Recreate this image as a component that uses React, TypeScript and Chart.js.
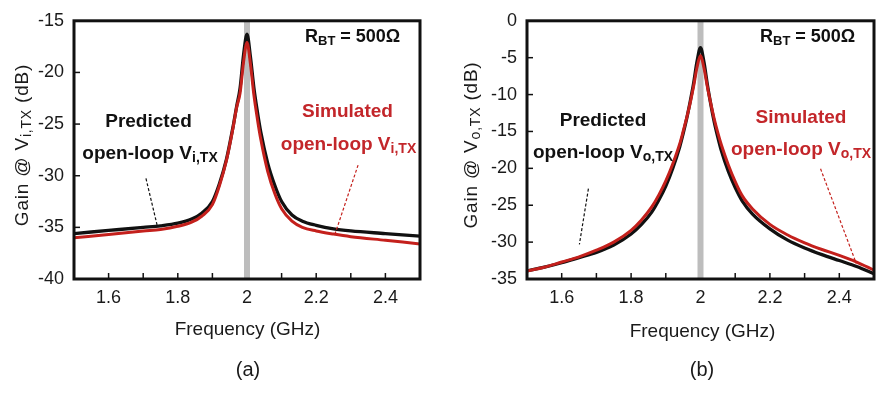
import React, { useEffect, useRef } from "react";
import { Chart, registerables } from "chart.js";

Chart.register(...registerables);

// ---------- data (a) ----------
const freqA = [1.5, 1.6, 1.7, 1.75, 1.8, 1.84, 1.87, 1.9, 1.92, 1.94, 1.96, 1.97, 1.98, 1.99, 2.0, 2.01, 2.02, 2.03, 2.04, 2.06, 2.08, 2.1, 2.13, 2.16, 2.2, 2.25, 2.3, 2.4, 2.5];
const predictedA = [-35.6, -35.3, -35.0, -34.85, -34.6, -34.2, -33.6, -32.5, -30.8, -28.5, -25.2, -23.3, -21.5, -18.3, -16.3, -18.5, -21.5, -23.8, -25.8, -28.8, -30.9, -32.5, -33.8, -34.4, -34.8, -35.15, -35.35, -35.6, -35.85];
const simulatedA = [-36.0, -35.7, -35.35, -35.2, -34.9, -34.5, -33.9, -32.8, -31.0, -28.6, -25.3, -23.4, -22.0, -19.0, -17.1, -19.2, -22.2, -24.5, -26.5, -29.6, -31.7, -33.2, -34.4, -35.0, -35.35, -35.65, -35.9, -36.25, -36.6];

// ---------- data (b) ----------
const freqB = [1.5, 1.55, 1.6, 1.65, 1.7, 1.75, 1.8, 1.83, 1.86, 1.88, 1.9, 1.92, 1.94, 1.95, 1.96, 1.97, 1.98, 1.99, 2.0, 2.01, 2.02, 2.03, 2.04, 2.05, 2.06, 2.08, 2.1, 2.12, 2.15, 2.2, 2.25, 2.3, 2.35, 2.4, 2.45, 2.5];
const predictedB = [-33.9, -33.4, -32.8, -32.1, -31.4, -30.4, -28.9, -27.6, -25.9, -24.3, -22.4, -20.0, -17.1, -15.3, -13.3, -11.0, -8.5, -5.5, -3.65, -5.6, -8.7, -11.4, -13.8, -15.8, -17.6, -20.4, -22.6, -24.4, -26.2, -28.2, -29.7, -30.8, -31.7, -32.5, -33.3, -34.3];
const simulatedB = [-33.9, -33.4, -32.7, -32.0, -31.1, -30.0, -28.4, -27.0, -25.2, -23.6, -21.7, -19.4, -16.7, -15.0, -13.2, -11.2, -8.9, -6.3, -4.7, -6.4, -9.0, -11.3, -13.4, -15.2, -16.8, -19.5, -21.8, -23.7, -25.5, -27.6, -29.0, -30.1, -31.0, -31.8, -32.7, -33.8];

// ---------- axes ----------
const xRange = [1.5, 2.5];
const xLabelled = ["1.6", "1.8", "2", "2.2", "2.4"];
const yRangeA = [-40, -15];
const yRangeB = [-35, 0];
const yStep = 5;
const centerFreq = 2.0;

// leader lines (data coords)
const leaderPredA = [[1.708, -30.26], [1.74, -34.76]];
const leaderSimA = [[2.321, -28.97], [2.254, -35.68]];
const leaderPredB = [[1.677, -22.76], [1.651, -30.3]];
const leaderSimB = [[2.346, -20.06], [2.449, -32.9]];

const FONT = "'Liberation Sans', Arial, Helvetica, sans-serif";
const BLACK = "#111111";
const RED = "#c4201c";
const RED_TEXT = "#c3262a";
const GRAY = "#bdbdbd";

type Part = { t: string; sub?: boolean };

function drawRich(
  ctx: CanvasRenderingContext2D,
  parts: Part[],
  x: number,
  y: number,
  align: "left" | "center",
  size: number,
  subSize: number,
  bold: boolean,
  color: string,
  subOffset: number
) {
  const main = `${bold ? "bold " : ""}${size}px ${FONT}`;
  const sub = `${bold ? "bold " : ""}${subSize}px ${FONT}`;
  let w = 0;
  parts.forEach((p) => {
    ctx.font = p.sub ? sub : main;
    w += ctx.measureText(p.t).width;
  });
  let cx = align === "center" ? x - w / 2 : x;
  ctx.fillStyle = color;
  ctx.textAlign = "left";
  ctx.textBaseline = "alphabetic";
  parts.forEach((p) => {
    ctx.font = p.sub ? sub : main;
    ctx.fillText(p.t, cx, y + (p.sub ? subOffset : 0));
    cx += ctx.measureText(p.t).width;
  });
}

type Ann = {
  rbt: [number, number];
  pred: { cx: number; y1: number; cx2: number; y2: number };
  sim: { cx: number; y1: number; cx2: number; y2: number };
  sub: string;
  leaderPred: number[][];
  leaderSim: number[][];
  yTitle: [number, number];
  xTitle: [number, number];
  panel: string;
  panelPos: [number, number];
};

function makePlugin(ann: Ann) {
  return {
    id: "decor",
    afterDraw(chart: any) {
      const { ctx, chartArea: a, scales } = chart;
      const xs = scales.x;
      const ys = scales.y;
      ctx.save();
      // inward ticks
      ctx.strokeStyle = BLACK;
      ctx.lineWidth = 1.5;
      xs.ticks.forEach((t: any) => {
        if (Math.abs(t.value - centerFreq) < 1e-6) return;
        const px = xs.getPixelForValue(t.value);
        ctx.beginPath();
        ctx.moveTo(px, a.bottom);
        ctx.lineTo(px, a.bottom - 6);
        ctx.stroke();
      });
      ys.ticks.forEach((t: any) => {
        const py = ys.getPixelForValue(t.value);
        ctx.beginPath();
        ctx.moveTo(a.left, py);
        ctx.lineTo(a.left + 6, py);
        ctx.stroke();
      });
      // leaders
      ctx.lineWidth = 1.2;
      ctx.setLineDash([3, 2]);
      const drawLeader = (pts: number[][], color: string) => {
        ctx.strokeStyle = color;
        ctx.beginPath();
        ctx.moveTo(xs.getPixelForValue(pts[0][0]), ys.getPixelForValue(pts[0][1]));
        ctx.lineTo(xs.getPixelForValue(pts[1][0]), ys.getPixelForValue(pts[1][1]));
        ctx.stroke();
      };
      drawLeader(ann.leaderPred, BLACK);
      drawLeader(ann.leaderSim, RED);
      ctx.setLineDash([]);
      // frame
      ctx.strokeStyle = BLACK;
      ctx.lineWidth = 3;
      ctx.strokeRect(a.left, a.top, a.right - a.left, a.bottom - a.top);

      // texts
      drawRich(ctx, [{ t: "R" }, { t: "BT", sub: true }, { t: " = 500Ω" }], ann.rbt[0], ann.rbt[1], "left", 18, 13, true, BLACK, 3);
      drawRich(ctx, [{ t: "Predicted" }], ann.pred.cx, ann.pred.y1, "center", 19, 14, true, BLACK, 3);
      drawRich(ctx, [{ t: "open-loop V" }, { t: ann.sub, sub: true }], ann.pred.cx2, ann.pred.y2, "center", 19, 14, true, BLACK, 3);
      drawRich(ctx, [{ t: "Simulated" }], ann.sim.cx, ann.sim.y1, "center", 19, 14, true, RED_TEXT, 3);
      drawRich(ctx, [{ t: "open-loop V" }, { t: ann.sub, sub: true }], ann.sim.cx2, ann.sim.y2, "center", 19, 14, true, RED_TEXT, 3);

      // x title
      drawRich(ctx, [{ t: "Frequency (GHz)" }], ann.xTitle[0], ann.xTitle[1], "center", 19, 13, false, "#1a1a1a", 0);
      // panel label
      ctx.font = `20px ${FONT}`;
      ctx.fillStyle = "#1a1a1a";
      ctx.textAlign = "center";
      ctx.textBaseline = "middle";
      ctx.fillText(ann.panel, ann.panelPos[0], ann.panelPos[1]);

      // y title rotated
      ctx.translate(ann.yTitle[0], ann.yTitle[1]);
      ctx.rotate(-Math.PI / 2);
      (ctx as any).letterSpacing = "0.8px";
      drawRich(ctx, [{ t: "Gain @ V" }, { t: ann.sub, sub: true }, { t: " (dB)" }], 0, 6, "center", 19, 14, false, "#1a1a1a", 3);
      (ctx as any).letterSpacing = "0px";
      ctx.restore();
    },
  };
}

function makeConfig(
  freq: number[],
  pred: number[],
  sim: number[],
  yRange: number[],
  yWidth: number,
  xHeight: number,
  padRight: number,
  ann: Ann
): any {
  const toPts = (vals: number[]) => freq.map((f, i) => ({ x: f, y: vals[i] }));
  return {
    type: "line",
    data: {
      datasets: [
        {
          label: "Simulated",
          data: toPts(sim),
          borderColor: RED,
          borderWidth: 3,
          pointRadius: 0,
          cubicInterpolationMode: "monotone",
          fill: false,
        },
        {
          label: "Predicted",
          data: toPts(pred),
          borderColor: BLACK,
          borderWidth: 3.3,
          pointRadius: 0,
          cubicInterpolationMode: "monotone",
          fill: false,
        },
        {
          label: "f0",
          data: [
            { x: centerFreq, y: yRange[0] },
            { x: centerFreq, y: yRange[1] },
          ],
          borderColor: GRAY,
          borderWidth: 6,
          pointRadius: 0,
          fill: false,
        },
      ],
    },
    options: {
      animation: false,
      responsive: false,
      devicePixelRatio: 1,
      layout: { padding: { top: 7, right: padRight, left: 0, bottom: 0 } },
      plugins: { legend: { display: false }, tooltip: { enabled: false } },
      scales: {
        x: {
          type: "linear",
          min: xRange[0],
          max: xRange[1],
          grid: { display: false, drawTicks: false },
          border: { display: false },
          afterFit: (s: any) => {
            s.height = xHeight;
          },
          ticks: {
            stepSize: 0.1,
            autoSkip: false,
            maxRotation: 0,
            padding: 8,
            color: "#1a1a1a",
            font: { family: FONT, size: 18 },
            callback: (v: number) => {
              const s = String(Math.round(v * 10) / 10);
              return xLabelled.includes(s) ? s : "";
            },
          },
        },
        y: {
          type: "linear",
          min: yRange[0],
          max: yRange[1],
          grid: { display: false, drawTicks: false },
          border: { display: false },
          afterFit: (s: any) => {
            s.width = yWidth;
          },
          ticks: {
            stepSize: yStep,
            padding: 10,
            color: "#1a1a1a",
            font: { family: FONT, size: 18 },
            callback: (v: number) => String(v),
          },
        },
      },
    },
    plugins: [makePlugin(ann)],
  };
}

const annA: Ann = {
  rbt: [305, 42],
  pred: { cx: 148.5, y1: 127, cx2: 150, y2: 159 },
  sim: { cx: 347.5, y1: 117, cx2: 348.5, y2: 150 },
  sub: "i,TX",
  leaderPred: leaderPredA,
  leaderSim: leaderSimA,
  yTitle: [22, 145],
  xTitle: [247.5, 335],
  panel: "(a)",
  panelPos: [248, 370],
};

const annB: Ann = {
  rbt: [318, 42],
  pred: { cx: 161, y1: 126, cx2: 161, y2: 158 },
  sim: { cx: 359, y1: 123, cx2: 359, y2: 155 },
  sub: "o,TX",
  leaderPred: leaderPredB,
  leaderSim: leaderSimB,
  yTitle: [29, 145],
  xTitle: [260.5, 337],
  panel: "(b)",
  panelPos: [260, 370],
};

function Panel({ cfg }: { cfg: () => any }) {
  const ref = useRef<HTMLCanvasElement | null>(null);
  useEffect(() => {
    if (!ref.current) return;
    const chart = new Chart(ref.current, cfg());
    return () => chart.destroy();
  }, []);
  return <canvas ref={ref} width={442} height={393} style={{ display: "block", width: 442, height: 393 }} />;
}

export default function App() {
  return (
    <div style={{ position: "absolute", left: 0, top: 0, width: 884, height: 393, display: "flex", background: "#fff" }}>
      <Panel cfg={() => makeConfig(freqA, predictedA, simulatedA, yRangeA, 74, 114, 22, annA)} />
      <Panel cfg={() => makeConfig(freqB, predictedB, simulatedB, yRangeB, 85, 114, 10, annB)} />
    </div>
  );
}
